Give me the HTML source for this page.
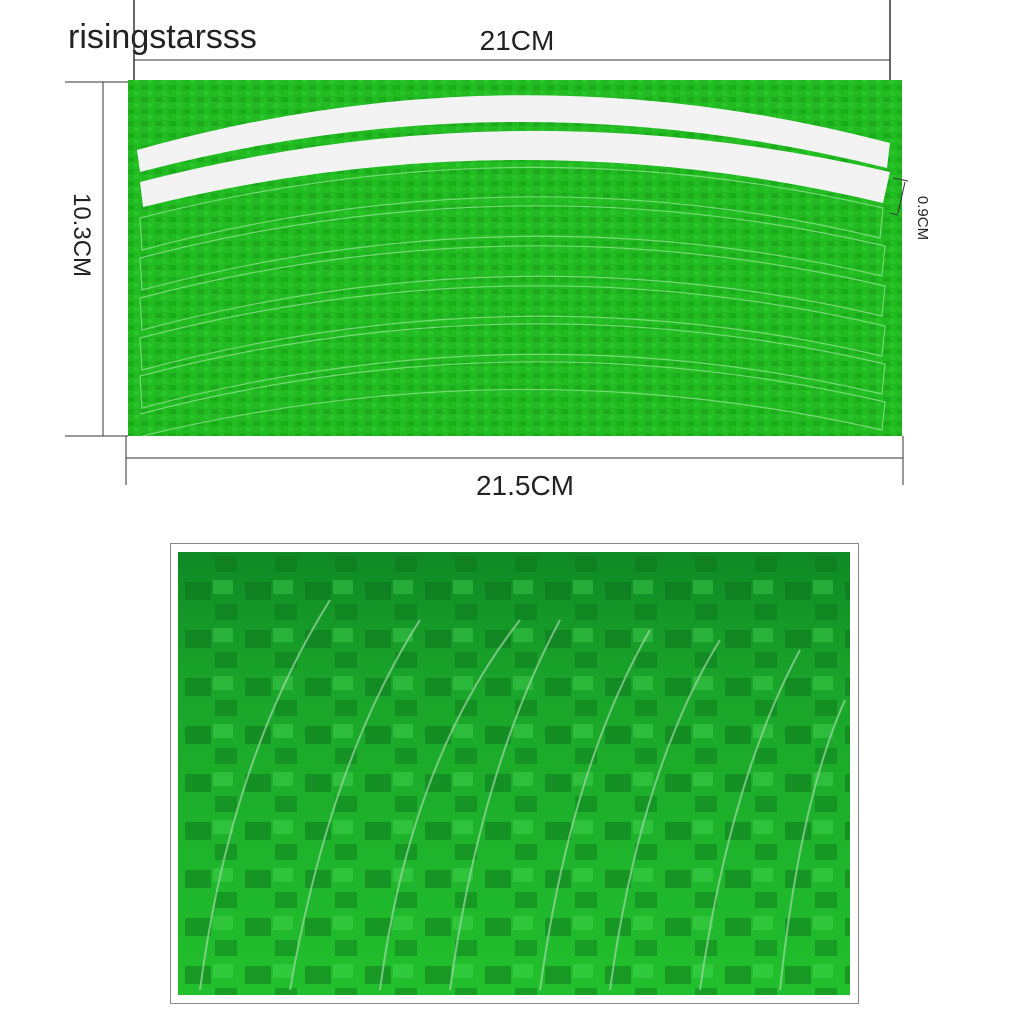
<!DOCTYPE html>
<html><head><style>
html,body{margin:0;padding:0;background:#fff;width:1024px;height:1024px;overflow:hidden}
</style></head><body>
<svg width="1024" height="1024" viewBox="0 0 1024 1024" xmlns="http://www.w3.org/2000/svg">
<defs>
<pattern id="tiles" width="14" height="12" patternUnits="userSpaceOnUse">
<rect width="14" height="12" fill="#22bb22"/>
<rect x="1" y="1" width="7" height="5" fill="#17a517" opacity="0.7"/>
<rect x="8" y="7" width="5" height="4" fill="#2bcb2b" opacity="0.7"/>
</pattern>
<linearGradient id="pg" x1="0" y1="0" x2="0" y2="1">
<stop offset="0" stop-color="#0f8a25"/>
<stop offset="0.3" stop-color="#1aa52a"/>
<stop offset="1" stop-color="#22c02c"/>
</linearGradient>
<pattern id="check" width="60" height="48" patternUnits="userSpaceOnUse">
<rect x="5" y="6" width="26" height="18" fill="#0a6d1a" opacity="0.45"/>
<rect x="35" y="28" width="22" height="16" fill="#0a6d1a" opacity="0.4"/>
<rect x="33" y="4" width="20" height="14" fill="#4de05a" opacity="0.35"/>
</pattern>
</defs>
<text x="68" y="48" font-family="Liberation Sans, sans-serif" font-size="34" fill="#222">risingstarsss</text>
<text x="517" y="50" font-family="Liberation Sans, sans-serif" font-size="28" fill="#222" text-anchor="middle">21CM</text>
<line x1="134" y1="0" x2="134" y2="150" stroke="#333" stroke-width="1.5"/>
<line x1="890" y1="0" x2="890" y2="145" stroke="#333" stroke-width="1.5"/>
<line x1="134" y1="60" x2="890" y2="60" stroke="#333"/>
<rect x="128" y="80" width="774" height="356" fill="url(#tiles)"/>
<path d="M137,150 Q513,44 890,143 L887,168 Q513,74 140,172 Z" fill="#f3f3f3"/>
<path d="M140,182 Q515,85 890,172 L883,203 Q515,115 143,207 Z" fill="#f3f3f3"/>
<g fill="none" stroke="#8ce28c" stroke-width="1.2" opacity="0.8">
<path d="M140,218 Q515,122 883,208 L880,238 Q515,150 142,250 Z"/>
<path d="M140,258 Q515,160 885,246 L882,276 Q515,190 142,290 Z"/>
<path d="M140,298 Q515,200 885,286 L882,316 Q515,230 142,330 Z"/>
<path d="M140,338 Q515,240 885,326 L882,356 Q515,270 142,370 Z"/>
<path d="M140,376 Q515,278 885,364 L882,394 Q515,308 142,408 Z"/>
<path d="M140,414 Q515,316 885,402 L882,430 Q515,346 142,436"/>
</g>
<line x1="65" y1="82" x2="128" y2="82" stroke="#333"/>
<line x1="65" y1="436" x2="128" y2="436" stroke="#333"/>
<line x1="103" y1="82" x2="103" y2="436" stroke="#333"/>
<text transform="translate(74,235) rotate(90)" font-family="Liberation Sans, sans-serif" font-size="24" fill="#222" text-anchor="middle">10.3CM</text>
<line x1="126" y1="436" x2="126" y2="485" stroke="#333"/>
<line x1="903" y1="436" x2="903" y2="485" stroke="#333"/>
<line x1="126" y1="458" x2="903" y2="458" stroke="#333"/>
<text x="525" y="495" font-family="Liberation Sans, sans-serif" font-size="28" fill="#222" text-anchor="middle">21.5CM</text>
<line x1="893" y1="178" x2="908" y2="181" stroke="#333"/>
<line x1="890" y1="213" x2="898" y2="215" stroke="#333"/>
<line x1="905" y1="182" x2="898" y2="213" stroke="#333"/>
<text transform="translate(918,218) rotate(90)" font-family="Liberation Sans, sans-serif" font-size="15" fill="#222" text-anchor="middle">0.9CM</text>
<rect x="170.5" y="543.5" width="688" height="460" fill="#fff" stroke="#888"/>
<rect x="178" y="552" width="672" height="443" fill="url(#pg)"/>
<rect x="178" y="552" width="672" height="443" fill="url(#check)"/>
<g fill="none" stroke="#a0d8a8" stroke-width="2" opacity="0.7">
<path d="M200,990 Q230,760 330,600"/>
<path d="M290,990 Q330,760 420,620"/>
<path d="M380,990 Q410,760 520,620"/>
<path d="M450,990 Q480,770 560,620"/>
<path d="M540,990 Q570,770 650,630"/>
<path d="M610,990 Q640,770 720,640"/>
<path d="M700,990 Q730,780 800,650"/>
<path d="M780,990 Q800,800 845,700"/>
</g>
</svg>
</body></html>
